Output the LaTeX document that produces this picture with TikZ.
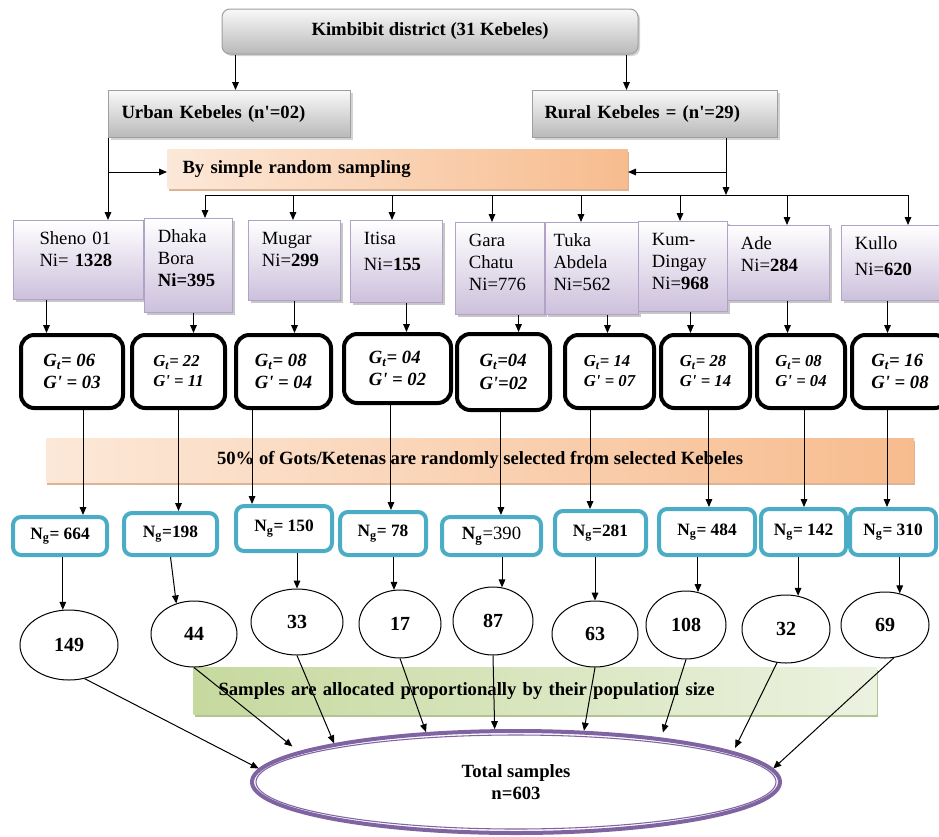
\documentclass[tikz,border=0pt]{standalone}
\usepackage{fontspec}
\setmainfont{Liberation Serif}
\usetikzlibrary{arrows.meta,shapes.geometric,shadows}

\definecolor{kpurp}{RGB}{204,192,220}
\definecolor{kline}{RGB}{178,162,200}
\definecolor{orL}{RGB}{252,232,216}
\definecolor{orR}{RGB}{247,188,142}
\definecolor{orS}{RGB}{214,160,122}
\definecolor{grL}{RGB}{236,242,224}
\definecolor{grR}{RGB}{198,217,158}
\definecolor{grS}{RGB}{160,180,120}
\definecolor{ngblue}{RGB}{75,172,198}
\definecolor{totpurp}{RGB}{128,100,162}

\newcommand{\hdfont}{\fontsize{14}{16}\selectfont\bfseries}

\tikzset{every picture/.style={line width=0.75pt}}
\tikzset{
  arr/.style={-{Triangle[length=6pt,width=5pt]}},
  greybox/.style={draw=gray!75, top color=gray!5, bottom color=gray!55, font=\hdfont,
    drop shadow={shadow xshift=1.5pt, shadow yshift=-1.5pt, opacity=0.35}},
  orbox/.style={left color=orL, right color=orR, font=\hdfont,
    drop shadow={shadow xshift=1pt, shadow yshift=-2pt, fill=orS, opacity=0.8}},
  grbox/.style={left color=grR, right color=grL, font=\hdfont,
    drop shadow={shadow xshift=1pt, shadow yshift=-2pt, fill=grS, opacity=0.8}},
  keb/.style={anchor=north west, draw=kline, top color=white, bottom color=kpurp, align=left,
    inner xsep=10pt, inner ysep=6pt, text height=12pt, font=\fontsize{14}{16.5}\selectfont,
    drop shadow={shadow xshift=2pt, shadow yshift=-2pt, fill=gray, opacity=0.45}},
  gbox/.style={draw, line width=3pt, rounded corners=10pt, fill=white, minimum height=54.75pt,
    align=left, font=\fontsize{14}{17}\selectfont\bfseries\itshape},
  gsmall/.style={font=\fontsize{12.5}{15}\selectfont\bfseries\itshape},
  ngbox/.style={draw=ngblue, line width=3pt, rounded corners=6pt, fill=white,
    font=\fontsize{13}{15}\selectfont\bfseries},
  ell/.style={ellipse, draw, fill=white, inner sep=0pt, font=\fontsize{15}{18}\selectfont\bfseries},
  tot/.style={ellipse, draw=totpurp, line width=3pt, fill=white, minimum width=396pt,
    minimum height=76.5pt, align=center, font=\fontsize{14}{17}\selectfont\bfseries}
}

\begin{document}
\begin{tikzpicture}[x=0.75pt,y=0.75pt,yscale=-1,xscale=1]
\useasboundingbox (0,0) rectangle (939,836);

%District and groups
\node[greybox, rounded corners=6pt, minimum width=312pt, minimum height=33.75pt] (dist) at (430,31.5) {Kimbibit district (31 Kebeles)};
\node[greybox, anchor=north west, align=left, text width=162pt, inner xsep=9.75pt, minimum height=35.25pt] (urban) at (108,90) {Urban Kebeles (n\textquotesingle=02)};
\node[greybox, anchor=north west, align=left, text width=165.75pt, inner xsep=9pt, minimum height=35.25pt] (rural) at (532,90) {Rural Kebeles = (n\textquotesingle=29)};
\node[orbox, anchor=north west, align=left, text width=322.5pt, inner xsep=11.25pt, minimum height=29.25pt] (srs) at (167,149) {By simple random sampling};

%Kebeles
\node[keb, inner xsep=19.5pt, text width=58.5pt, text depth=35.25pt] (sheno) at (13,220) {Sheno 01\\Ni= \textbf{1328}};
\node[keb, text width=46pt, text depth=46.5pt] (dhaka) at (144,218) {Dhaka\\Bora\\\textbf{Ni=395}};
\node[keb, text width=49pt, text depth=36pt] (mugar) at (248,220) {Mugar\\Ni=\textbf{299}};
\node[keb, text width=49pt, text depth=37.5pt] (itisa) at (350,220) {Itisa\\[3pt]Ni=\textbf{155}};
\node[keb, text width=46.75pt, text depth=45pt] (gara) at (455,222) {Gara\\Chatu\\Ni=776};
\node[keb, inner xsep=6pt, text width=57.75pt, text depth=45pt] (tuka) at (545,222) {Tuka\\Abdela\\Ni=562};
\node[keb, text width=46.75pt, text depth=43.5pt] (kum) at (638,221) {Kum-\\Dingay\\Ni=\textbf{968}};
\node[keb, text width=56.5pt, text depth=32.25pt] (ade) at (727,225) {Ade\\Ni=\textbf{284}};
\node[keb, text width=55pt, text depth=32.25pt] (kullo) at (841,225) {Kullo\\[3pt]Ni=\textbf{620}};

%Gots
\node[gbox, minimum width=76.5pt] (g1) at (72,371.5) {G\textsubscript{t}= 06\\G\textquotesingle\ = 03};
\node[gbox, gsmall, minimum width=69.75pt] (g2) at (178.5,371.5) {G\textsubscript{t}= 22\\G\textquotesingle\ = 11};
\node[gbox, minimum width=71.25pt] (g3) at (283.5,371.5) {G\textsubscript{t}= 08\\G\textquotesingle\ = 04};
\node[gbox, minimum width=80.25pt, minimum height=51.75pt] (g4) at (397.5,368.5) {G\textsubscript{t}= 04\\G\textquotesingle\ = 02};
\node[gbox, minimum width=69.75pt, minimum height=57pt] (g5) at (503.5,372) {G\textsubscript{t}=04\\G\textquotesingle=02};
\node[gbox, gsmall, minimum width=66.75pt] (g6) at (609.5,371.5) {G\textsubscript{t}= 14\\G\textquotesingle\ = 07};
\node[gbox, gsmall, minimum width=66.75pt] (g7) at (705.5,371.5) {G\textsubscript{t}= 28\\G\textquotesingle\ = 14};
\node[gbox, gsmall, minimum width=66pt] (g8) at (801,371.5) {G\textsubscript{t}= 08\\G\textquotesingle\ = 04};
\node[gbox, minimum width=72pt] (g9) at (900,371.5) {G\textsubscript{t}= 16\\G\textquotesingle\ = 08};

%Bands
\node[orbox, minimum width=651pt, minimum height=33pt] (gots) at (480,460) {50\% of Gots/Ketenas are randomly selected from selected Kebeles};
\node[grbox, anchor=north west, align=left, text width=474.75pt, inner xsep=18.75pt, minimum height=35.25pt] (alloc) at (193,667) {Samples are allocated proportionally by their population size};

%Selected gots
\node[ngbox, minimum width=70.5pt, minimum height=28.5pt] (n1) at (60,536) {N\textsubscript{g}= 664};
\node[ngbox, minimum width=69.75pt, minimum height=31.5pt] (n2) at (170.5,534) {N\textsubscript{g}=198};
\node[ngbox, minimum width=72pt, minimum height=33.75pt] (n3) at (284,528.5) {N\textsubscript{g}= 150};
\node[ngbox, minimum width=64.5pt, minimum height=32.25pt] (n4) at (383,533.5) {N\textsubscript{g}= 78};
\node[ngbox, font=\fontsize{14}{16}\selectfont, minimum width=74.25pt, minimum height=28.5pt] (n5) at (491.5,536) {\textbf{N\textsubscript{g}}=390};
\node[ngbox, minimum width=68.25pt, minimum height=33pt] (n6) at (600.5,533) {N\textsubscript{g}=281};
\node[ngbox, minimum width=72pt, minimum height=34.5pt] (n7) at (707,532) {N\textsubscript{g}= 484};
\node[ngbox, minimum width=63.75pt, minimum height=34.5pt] (n8) at (803.5,532) {N\textsubscript{g}= 142};
\node[ngbox, minimum width=64.5pt, minimum height=34.5pt] (n9) at (893,532) {N\textsubscript{g}= 310};

%Samples
\node[ell, minimum width=73.5pt, minimum height=52.5pt] (e1) at (69,645) {149};
\node[ell, minimum width=64.5pt, minimum height=49.5pt] (e2) at (194,634) {44};
\node[ell, minimum width=69pt, minimum height=49.5pt] (e3) at (297,622) {33};
\node[ell, minimum width=61.5pt, minimum height=51pt] (e4) at (400,624) {17};
\node[ell, minimum width=60pt, minimum height=51pt] (e5) at (493,621) {87};
\node[ell, minimum width=64.5pt, minimum height=49.5pt] (e6) at (595,634) {63};
\node[ell, minimum width=60pt, minimum height=51pt] (e7) at (686,625) {108};
\node[ell, minimum width=66pt, minimum height=51pt] (e8) at (786,629) {32};
\node[ell, minimum width=66pt, minimum height=49.5pt] (e9) at (885,625) {69};

%Total
\node[tot] (tot) at (516,782) {Total samples\\n=603};
\draw[totpurp, line width=0.8pt] (tot.center) ellipse [x radius=260, y radius=47];

%Bus coordinates
\coordinate (d2) at (205,195);
\coordinate (d3) at (293,195);
\coordinate (d4) at (392,195);
\coordinate (d5) at (492,195);
\coordinate (d6) at (581,195);
\coordinate (d7) at (680,195);
\coordinate (d8) at (787,195);
\coordinate (d9) at (908,195);
\coordinate (rdrop) at (726,172);

%Arrows top
\draw[arr] ([xshift=10.5pt]dist.south west) -- ([xshift=10.5pt]dist.south west |- urban.north);
\draw[arr] ([xshift=-9pt]dist.south east) -- ([xshift=-9pt]dist.south east |- rural.north);
\draw[arr] (urban.south west) -- (urban.south west |- sheno.north);
\draw[arr] (urban.south west |- rdrop) -- (srs.west |- rdrop);
\draw[arr] (rdrop |- rural.south) -- (rdrop |- d2);
\draw[arr] (rdrop) -- (srs.east |- rdrop);
\draw (d2) -- (d9);
\draw[arr] (d2) -- (d2 |- dhaka.north);
\draw[arr] (d3) -- (d3 |- mugar.north);
\draw[arr] (d4) -- (d4 |- itisa.north);
\draw[arr] (d5) -- (d5 |- gara.north);
\draw[arr] (d6) -- (d6 |- tuka.north);
\draw[arr] (d7) -- (d7 |- kum.north);
\draw[arr] (d8) -- (d8 |- ade.north);
\draw[arr] (d9) -- (d9 |- kullo.north);

%Kebeles to gots
\draw[arr] ([xshift=-24pt]sheno.south) -- ([xshift=-24pt]sheno.south |- g1.north);
\draw[arr] ([xshift=3.75pt]dhaka.south) -- ([xshift=3.75pt]dhaka.south |- g2.north);
\draw[arr] (mugar.south) -- (mugar.south |- g3.north);
\draw[arr] ([xshift=7.5pt]itisa.south) -- ([xshift=7.5pt]itisa.south |- g4.north);
\draw[arr] ([xshift=13.9pt]gara.south) -- ([xshift=13.9pt]gara.south |- g5.north);
\draw[arr] ([xshift=11.6pt]tuka.south) -- ([xshift=11.6pt]tuka.south |- g6.north);
\draw[arr] ([xshift=5.6pt]kum.south) -- ([xshift=5.6pt]kum.south |- g7.north);
\draw[arr] ([xshift=6.75pt]ade.south) -- ([xshift=6.75pt]ade.south |- g8.north);
\draw[arr] ([xshift=-3pt]kullo.south) -- ([xshift=-3pt]kullo.south |- g9.north);

%Gots to selected gots
\draw[arr] ([xshift=8.25pt]g1.south) -- ([xshift=8.25pt]g1.south |- n1.north);
\draw[arr] (g2.south) -- (g2.south |- n2.north);
\draw[arr] ([xshift=-23.6pt]g3.south) -- ([xshift=-23.6pt]g3.south |- n3.north);
\draw[arr] ([xshift=-4.9pt]g4.south) -- ([xshift=-4.9pt]g4.south |- n4.north);
\draw[arr] ([xshift=-1.9pt]g5.south) -- ([xshift=-1.9pt]g5.south |- n5.north);
\draw[arr] ([xshift=-14.6pt]g6.south) -- ([xshift=-14.6pt]g6.south |- n6.north);
\draw[arr] ([xshift=2.6pt]g7.south) -- ([xshift=2.6pt]g7.south |- n7.north);
\draw[arr] ([xshift=2.25pt]g8.south) -- ([xshift=2.25pt]g8.south |- n8.north);
\draw[arr] ([xshift=-9.75pt]g9.south) -- ([xshift=-9.75pt]g9.south |- n9.north);

%Selected gots to samples
\draw[arr] (e1.100 |- n1.south) -- (e1.100);
\draw[arr] (n2.south) -- (e2.120);
\draw[arr] (e3.north |- n3.south) -- (e3.north);
\draw[arr] (e4.100 |- n4.south) -- (e4.100);
\draw[arr] (e5.75 |- n5.south) -- (e5.75);
\draw[arr] (e6.north |- n6.south) -- (e6.north);
\draw[arr] (e7.70 |- n7.south) -- (e7.70);
\draw[arr] (e8.70 |- n8.south) -- (e8.70);
\draw[arr] (e9.65 |- n9.south) -- (e9.65);

%Samples to total
\draw[arr] (e1.-65) -- (tot.177);
\draw[arr, shorten >=6pt] (e2.south) -- (tot.172);
\draw[arr] (e3.south) -- (tot.168);
\draw[arr] (e4.south) -- (tot.151);
\draw[arr] (e5.south) -- (tot.112);
\draw[arr] (e6.south) -- (tot.37);
\draw[arr, shorten >=4pt] (e7.south) -- (tot.17);
\draw[arr, shorten >=3pt] (e8.-105) -- (tot.8);
\draw[arr] (e9.-75) -- (tot.3);

\end{tikzpicture}
\end{document}
